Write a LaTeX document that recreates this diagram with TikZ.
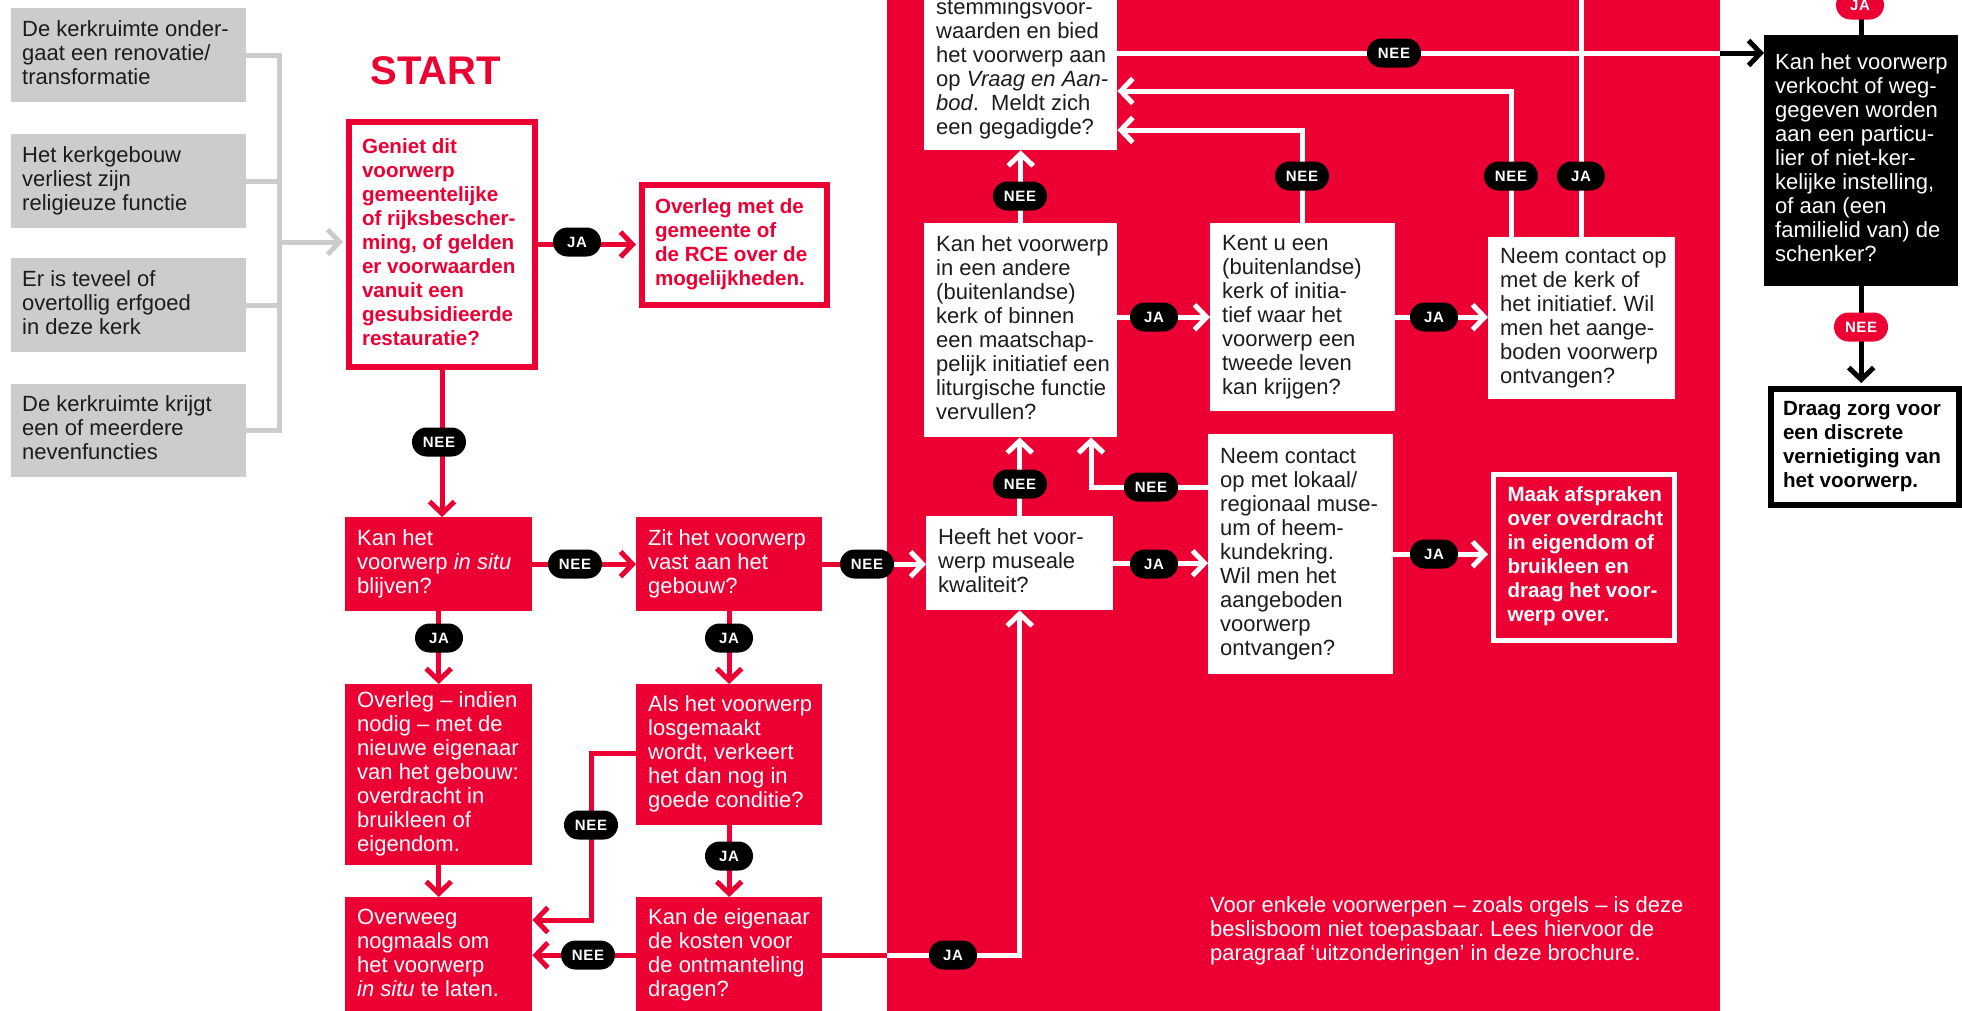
\documentclass[tikz,border=0pt]{standalone}
\usepackage{fontspec}
\setmainfont{Liberation Sans}
\newfontfamily\pillfont[LetterSpace=4.0]{Liberation Sans}
\usetikzlibrary{arrows.meta}
\definecolor{kred}{RGB}{236,0,52}
\definecolor{kgray}{RGB}{204,204,204}
\definecolor{kink}{RGB}{28,28,28}
\frenchspacing
\newcommand{\boxlines}[2]{\makebox[#1][l]{\begin{tabular}{@{}l@{}}#2\end{tabular}}}
\tikzset{
  base/.style={rectangle, anchor=north west, inner ysep=0pt, inner xsep=12pt, font=\fontsize{22}{24}\selectfont},
  boldtext/.style={font=\fontsize{20.6}{24}\selectfont\bfseries},
  gbox/.style={base, fill=kgray, text=kink, inner xsep=11pt},
  wbox/.style={base, fill=white, text=kink},
  rbox/.style={base, fill=kred, text=white},
  kbox/.style={base, fill=black, text=white, inner xsep=11pt},
  obox/.style={base, fill=white, draw=kred, line width=6pt, text=kred, boldtext, inner xsep=13pt},
  mbox/.style={base, fill=kred, draw=white, line width=5pt, text=white, boldtext, inner xsep=14.5pt},
  dbox/.style={base, fill=white, draw=black, line width=6pt, text=black, boldtext},
  pill/.style={rectangle, rounded corners=14.5pt, fill=black, text=white, minimum height=29pt, minimum width=48pt, inner xsep=11pt, inner ysep=0pt, font=\pillfont\fontsize{15}{15}\selectfont\bfseries},
  rpill/.style={pill, fill=kred},
  conn/.style={line width=5pt},
  rl/.style={conn, draw=kred},
  wl/.style={conn, draw=white},
  kl/.style={conn, draw=black},
  gl/.style={conn, draw=kgray},
  arr/.style={-{Straight Barb[length=12pt,width=25pt]}},
}
\begin{document}
\begin{tikzpicture}[x=1pt,y=-1pt]
\useasboundingbox (0,0) rectangle (1962,1010);
\clip (0,0) rectangle (1962,1010);
\fill[white] (0,0) rectangle (1962,1010);

% red panel
\node[fill=kred, anchor=north west, minimum width=833pt, minimum height=1040pt, inner sep=0pt] (panel) at (887,-15) {};

% gray boxes
\node[gbox, minimum height=94pt] (g1) at (11,8) {\boxlines{213pt}{De kerkruimte onder-\\gaat een renovatie/\\transformatie}};
\node[gbox, minimum height=94pt] (g2) at (11,134) {\boxlines{213pt}{Het kerkgebouw\\verliest zijn\\religieuze functie}};
\node[gbox, minimum height=94pt] (g3) at (11,258) {\boxlines{213pt}{Er is teveel of\\overtollig erfgoed\\in deze kerk}};
\node[gbox, minimum height=93pt] (g4) at (11,384) {\boxlines{213pt}{De kerkruimte krijgt\\een of meerdere\\nevenfuncties}};

% title
\node[text=kred, font=\fontsize{40}{40}\selectfont\bfseries, inner sep=0pt] (title) at (436,71) {START};

% left columns
\node[obox, minimum height=245pt] (start) at (346,119) {\boxlines{160pt}{Geniet dit\\voorwerp\\gemeentelijke\\of rijksbescher-\\ming, of gelden\\er voorwaarden\\vanuit een\\gesubsidieerde\\restauratie?}};
\node[obox, minimum height=120pt] (gemeente) at (639,182) {\boxlines{159pt}{Overleg met de\\gemeente of\\de RCE over de\\mogelijkheden.}};

\node[rbox, minimum height=94pt] (kanhet) at (345,517) {\boxlines{163pt}{Kan het\\voorwerp \textit{in situ}\\blijven?}};
\node[rbox, minimum height=181pt] (overleg) at (345,684) {\boxlines{163pt}{Overleg – indien\\nodig – met de\\nieuwe eigenaar\\van het gebouw:\\overdracht in\\bruikleen of\\eigendom.}};
\node[rbox, minimum height=116pt] (overweeg) at (345,897) {\boxlines{163pt}{Overweeg\\nogmaals om\\het voorwerp\\\textit{in situ} te laten.}};
\node[rbox, minimum height=94pt] (zit) at (636,517) {\boxlines{162pt}{Zit het voorwerp\\vast aan het\\gebouw?}};
\node[rbox, minimum height=141pt] (als) at (636,684) {\boxlines{162pt}{Als het voorwerp\\losgemaakt\\wordt, verkeert\\het dan nog in\\goede conditie?}};
\node[rbox, minimum height=116pt] (kande) at (636,897) {\boxlines{162pt}{Kan de eigenaar\\de kosten voor\\de ontmanteling\\dragen?}};

% panel boxes
\node[wbox, minimum height=162pt] (top) at (924,-12) {\boxlines{169pt}{stemmingsvoor-\\waarden en bied\\het voorwerp aan\\op \textit{Vraag en Aan-}\\\textit{bod}.\ \ Meldt zich\\een gegadigde?}};
\node[wbox, minimum height=214pt] (andere) at (924,223) {\boxlines{169pt}{Kan het voorwerp\\in een andere\\(buitenlandse)\\kerk of binnen\\een maatschap-\\pelijk initiatief een\\liturgische functie\\vervullen?}};
\node[wbox, minimum height=94pt] (heeft) at (926,516) {\boxlines{163pt}{Heeft het voor-\\werp museale\\kwaliteit?}};
\node[wbox, minimum height=188pt] (kentu) at (1210,223) {\boxlines{161pt}{Kent u een\\(buitenlandse)\\kerk of initia-\\tief waar het\\voorwerp een\\tweede leven\\kan krijgen?}};
\node[wbox, minimum height=240pt] (lokaal) at (1208,434) {\boxlines{161pt}{Neem contact\\op met lokaal/\\regionaal muse-\\um of heem-\\kundekring.\\Wil men het\\aangeboden\\voorwerp\\ontvangen?}};
\node[wbox, minimum height=162pt] (kerk) at (1488,237) {\boxlines{163pt}{Neem contact op\\met de kerk of\\het initiatief. Wil\\men het aange-\\boden voorwerp\\ontvangen?}};
\node[mbox, minimum height=166pt] (maak) at (1490.5,471.5) {\boxlines{152pt}{Maak afspraken\\over overdracht\\in eigendom of\\bruikleen en\\draag het voor-\\werp over.}};
\node[anchor=north west, inner sep=0pt, text=white, font=\fontsize{22}{24}\selectfont] (foot) at (1210,895) {\begin{tabular}{@{}l@{}}Voor enkele voorwerpen – zoals orgels – is deze\\beslisboom niet toepasbaar. Lees hiervoor de\\paragraaf ‘uitzonderingen’ in deze brochure.\end{tabular}};

% right column
\node[kbox, minimum height=251pt] (black) at (1764,35) {\boxlines{172pt}{Kan het voorwerp\\verkocht of weg-\\gegeven worden\\aan een particu-\\lier of niet-ker-\\kelijke instelling,\\of aan (een\\familielid van) de\\schenker?}};
\node[dbox, minimum height=116pt] (draag) at (1768,386) {\boxlines{164pt}{Draag zorg voor\\een discrete\\vernietiging van\\het voorwerp.}};

% gray bus
\coordinate (gbus) at (279,242);
\foreach \g in {g1,g2,g3,g4} \draw[gl] (\g.east) -| (gbus);
\draw[gl,arr,shorten >=3pt] (gbus) -- (gbus -| start.west);

% red connectors
\draw[rl,arr,shorten >=3pt] (start.east) -- (start.east -| gemeente.west);
\draw[rl,arr] (start.south) -- (start.south |- kanhet.north);
\draw[rl,arr] (kanhet.east) -- (zit.west);
\draw[rl,arr] (kanhet.south) -- (overleg.north);
\draw[rl,arr] (overleg.south) -- (overweeg.north);
\draw[rl,arr] (zit.south) -- (als.north);
\draw[rl,arr] (als.south) -- (kande.north);
\draw[rl,arr] (als.west |- 0,753) -- (591,753) -- (591,920) -- (overweeg.east |- 0,920);
\draw[rl,arr] (kande.west) -- (overweeg.east);
\draw[rl] (zit.east) -- (zit.east -| panel.west);
\draw[wl,arr] (zit.east -| panel.west) -- (heeft.west |- zit.east);
\draw[rl] (kande.east) -- (kande.east -| panel.west);
\draw[wl,arr] (kande.east -| panel.west) -| (heeft.south);

% white connectors
\draw[wl,arr] (heeft.north) -- (heeft.north |- andere.south);
\draw[wl,arr] (lokaal.west |- 0,487) -| (1091,0 |- andere.south);
\draw[wl,arr] (heeft.east) -- (heeft.east -| lokaal.west);
\draw[wl,arr,shorten >=2.5pt] (lokaal.east) -- (lokaal.east -| maak.west);
\draw[wl,arr] (andere.east |- kentu.west) -- (kentu.west);
\draw[wl,arr] (kentu.east) -- (kentu.east -| kerk.west);
\draw[wl,arr] (andere.north) -- (andere.north |- top.south);
\draw[wl,arr] (kentu.north) |- (top.east |- 0,130);
\draw[wl,arr] (kerk.north -| 1511,0) |- (top.east |- 0,91);
\coordinate (offA) at (1581,-20);
\draw[wl] (kerk.north -| offA) -- (offA);
\draw[wl] (top.east |- 0,53) -- (panel.east |- 0,53);
\draw[kl,arr] (panel.east |- 0,53) -- (black.west |- 0,53);

% black connectors
\coordinate (offB) at (1861,-20);
\draw[kl] (offB) -- (offB |- black.north);
\draw[kl,arr,shorten >=3pt] (black.south) -- (black.south |- draag.north);

% labels
\node[pill] (l1) at (577,242) {JA};
\node[pill] (l2) at (439,442) {NEE};
\node[pill] (l3) at (575,564) {NEE};
\node[pill] (l4) at (867,564) {NEE};
\node[pill] (l5) at (439,638) {JA};
\node[pill] (l6) at (729,638) {JA};
\node[pill] (l7) at (591,825) {NEE};
\node[pill] (l8) at (729,856) {JA};
\node[pill] (l9) at (588,955) {NEE};
\node[pill] (l10) at (953,955) {JA};
\node[pill] (l11) at (1020,196) {NEE};
\node[pill] (l12) at (1154,317) {JA};
\node[pill] (l13) at (1302,176) {NEE};
\node[pill] (l14) at (1434,317) {JA};
\node[pill] (l15) at (1511,176) {NEE};
\node[pill] (l16) at (1581,176) {JA};
\node[pill] (l17) at (1394,53) {NEE};
\node[pill] (l18) at (1020,484) {NEE};
\node[pill] (l19) at (1151,487) {NEE};
\node[pill] (l20) at (1154,564) {JA};
\node[pill] (l21) at (1434,554) {JA};
\node[rpill] (l22) at (1860,5) {JA};
\node[rpill] (l23) at (1861,327) {NEE};
\end{tikzpicture}
\end{document}
